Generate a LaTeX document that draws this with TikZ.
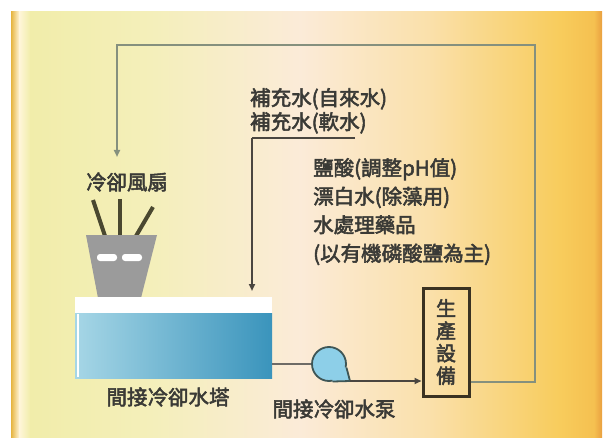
\documentclass[tikz,border=0pt]{standalone}
\usepackage{fontspec}
\newfontfamily\cjk[FakeBold=2.6]{Noto Sans CJK TC}
\usetikzlibrary{arrows.meta}

\definecolor{ink}{HTML}{3A3A36}
\definecolor{loopline}{HTML}{85907E}
\definecolor{feedline}{HTML}{4A4640}
\definecolor{stick}{HTML}{4A4830}
\definecolor{potgray}{HTML}{9B9B9B}
\definecolor{wlight}{HTML}{A6D6E6}
\definecolor{wdark}{HTML}{3A94BC}
\definecolor{pumpblue}{HTML}{8DCFE8}
\definecolor{pumpedge}{HTML}{3E5656}
\definecolor{boxedge}{HTML}{3A3222}

\definecolor{bgA}{HTML}{E6B440}
\definecolor{bgB}{HTML}{FFF6DA}
\definecolor{bgC}{HTML}{F1EDAA}
\definecolor{bgD}{HTML}{F4EFBA}
\definecolor{bgE}{HTML}{FBEBD8}
\definecolor{bgF}{HTML}{FAE0AA}
\definecolor{bgG}{HTML}{F8CC5C}
\definecolor{bgH}{HTML}{F5C050}
\definecolor{bgI}{HTML}{E9A040}

\tikzset{
  label/.style={font=\cjk\fontsize{20.5}{24}\selectfont, text=ink, inner sep=0pt},
  flowtip/.style={-{Triangle[length=7pt,width=6pt]}},
  loopflow/.style={draw=loopline, line width=2pt, flowtip},
  feed/.style={draw=feedline, line width=1.8pt},
  pipe/.style={draw=feedline!80, line width=2pt},
  fanstick/.style={draw=stick, line width=4pt},
  towerbody/.style={rectangle, minimum width=197pt, minimum height=65pt,
    left color=wlight, right color=wdark, inner sep=0pt},
  towertopstrip/.style={rectangle, minimum width=197pt, minimum height=16pt,
    fill=white, inner sep=0pt},
  pumpnode/.style={circle, minimum size=34pt, fill=pumpblue, draw=pumpedge,
    line width=1.8pt, inner sep=0pt},
  equipbox/.style={rectangle, draw=boxedge, line width=3pt, minimum width=46pt,
    minimum height=108pt, align=center, inner sep=0pt,
    font=\cjk\fontsize{20}{22.5}\selectfont, text=ink}
}

\begin{document}
\begin{tikzpicture}[x=1pt, y=-1pt]
  % page and panel
  \fill[white] (0,0) rectangle (604,438);
  \useasboundingbox (0,0) rectangle (604,438);
  \fill[left color=bgA, right color=bgB] (11,12) rectangle (19.5,437);
  \fill[left color=bgB, right color=bgC] (19,12) rectangle (30.5,437);
  \fill[left color=bgC, right color=bgD] (30,12) rectangle (150.5,437);
  \fill[left color=bgD, right color=bgE] (150,12) rectangle (300.5,437);
  \fill[left color=bgE, right color=bgF] (300,12) rectangle (430.5,437);
  \fill[left color=bgF, right color=bgG] (430,12) rectangle (560.5,437);
  \fill[left color=bgG, right color=bgH] (560,12) rectangle (594.5,437);
  \fill[left color=bgH, right color=bgI] (594,12) rectangle (602,437);

  % labels
  \node[label, anchor=north west, align=left]
    (makeup) at (250,88) {補充水(自來水)\\補充水(軟水)};
  \node[label, anchor=north west, align=left,
    font=\cjk\fontsize{20.5}{28.5}\selectfont]
    (chem) at (313,158) {鹽酸(調整pH值)\\漂白水(除藻用)\\水處理藥品\\(以有機磷酸鹽為主)};
  \node[label] (fanlabel) at (127,182) {冷卻風扇};
  \node[label] (towerlabel) at (168,397) {間接冷卻水塔};
  \node[label] (pumplabel) at (334,409) {間接冷卻水泵};

  % cooling fan
  \draw[fanstick] (93,200) -- (105,236);
  \draw[fanstick] (120,199) -- (120,236);
  \draw[fanstick] (153,207) -- (136,236);
  \fill[potgray] (86,235) -- (157,235) -- (141,298) -- (98,298) -- cycle;
  \fill[white, rounded corners=3pt] (97,254) rectangle (117,261);
  \fill[white, rounded corners=3pt] (122,254) rectangle (142,261);

  % cooling tower
  \node[towertopstrip] (towertop) at (173.5,305) {};
  \node[towerbody] (tower) at (173.5,345.5) {};
  \draw[white, line width=2.5pt] (78,313.5) -- (78,377);

  % pump and equipment
  \node[pumpnode] (pump) at (329,364) {};
  \coordinate (spout) at (350,381);
  \fill[pumpblue] (pump.-12) -- (spout) -- (pump.-78) -- (pump.center) -- cycle;
  \draw[pumpedge, line width=1.8pt, line join=round]
    (pump.-12) -- (spout) -- (pump.-78);
  \node[equipbox] (equip) at (446,342) {生\\產\\設\\備};

  % piping
  \draw[pipe] (tower.east |- pump.west) -- (pump.west);
  \draw[feed, flowtip] (spout) -- (spout -| equip.west);

  % make-up water feed
  \coordinate (mkend) at (355,138);
  \coordinate (mkcorner) at (252,138);
  \coordinate (mkin) at (252,291);
  \draw[feed] (mkend) -- (mkcorner);
  \draw[feed, flowtip] (mkcorner) -- (mkin);

  % return loop to the fan
  \coordinate (loopright) at (535,45);
  \coordinate (fanin) at (117,157);
  \draw[loopflow] (equip.east |- 0,382) -| (loopright) -| (fanin);
\end{tikzpicture}
\end{document}
